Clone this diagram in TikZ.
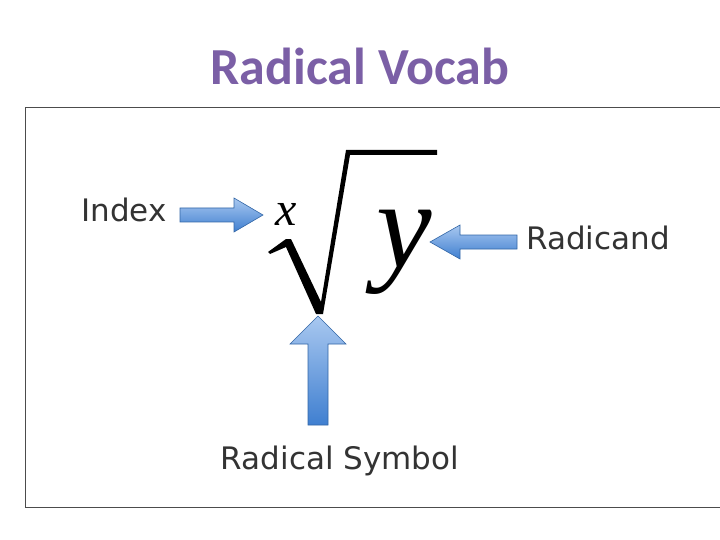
\documentclass[tikz,border=0pt]{standalone}
\usepackage{fontspec}
\setmainfont{Liberation Serif}
\newfontfamily\titlefont{Carlito}
\newfontfamily\lblfont{DejaVu Sans}
\definecolor{ttl}{HTML}{7B5FA6}
\definecolor{arrA}{HTML}{A9C8F0}
\definecolor{arrB}{HTML}{3F7FD0}
\tikzset{
 blk/.style={draw=arrB!80!black, line width=0.6pt, top color=arrA, bottom color=arrB},
 blkv/.style={draw=arrB!80!black, line width=0.6pt, top color=arrA, bottom color=arrB},
 lbl/.style={font=\lblfont\fontsize{31}{31}\selectfont, text=black!80}
}
\begin{document}
\begin{tikzpicture}[x=1pt,y=-1pt]
\useasboundingbox (0,0) rectangle (720,540);
\node[font=\titlefont\bfseries\fontsize{52}{52}\selectfont, text=ttl] (title) at (360,66) {Radical Vocab};
\begin{scope}
\clip (0,0) rectangle (720,540);
\draw[black!70, line width=1pt] (25,108) rectangle (740,507);
\end{scope}
% radical
\fill (268,252) -- (286,239) -- (291,239) -- (321,302) -- (346,150) -- (437,150) -- (437,155) -- (350,155) -- (323,314) -- (316,314) -- (286,247) -- (270,254) -- cycle;
\node[font=\itshape\fontsize{48}{48}\selectfont] (x) at (286,214) {x};
\node[font=\itshape\fontsize{125}{125}\selectfont] (y) at (404,252) {y};
\node[lbl] (index) at (124,210) {Index};
\node[lbl] (radicand) at (598,238) {Radicand};
\node[lbl] (symbol) at (340,461) {Radical Symbol};
% index arrow
\path[blk] (180,208) -- (234,208) -- (234,198) -- (263,215) -- (234,232) -- (234,222) -- (180,222) -- cycle;
% radicand arrow
\path[blk] (517,235) -- (460,235) -- (460,225) -- (430,242) -- (460,259) -- (460,249) -- (517,249) -- cycle;
% up arrow
\path[blkv] (308,425) -- (308,344) -- (290,344) -- (318,316) -- (346,344) -- (328,344) -- (328,425) -- cycle;
\end{tikzpicture}
\end{document}
